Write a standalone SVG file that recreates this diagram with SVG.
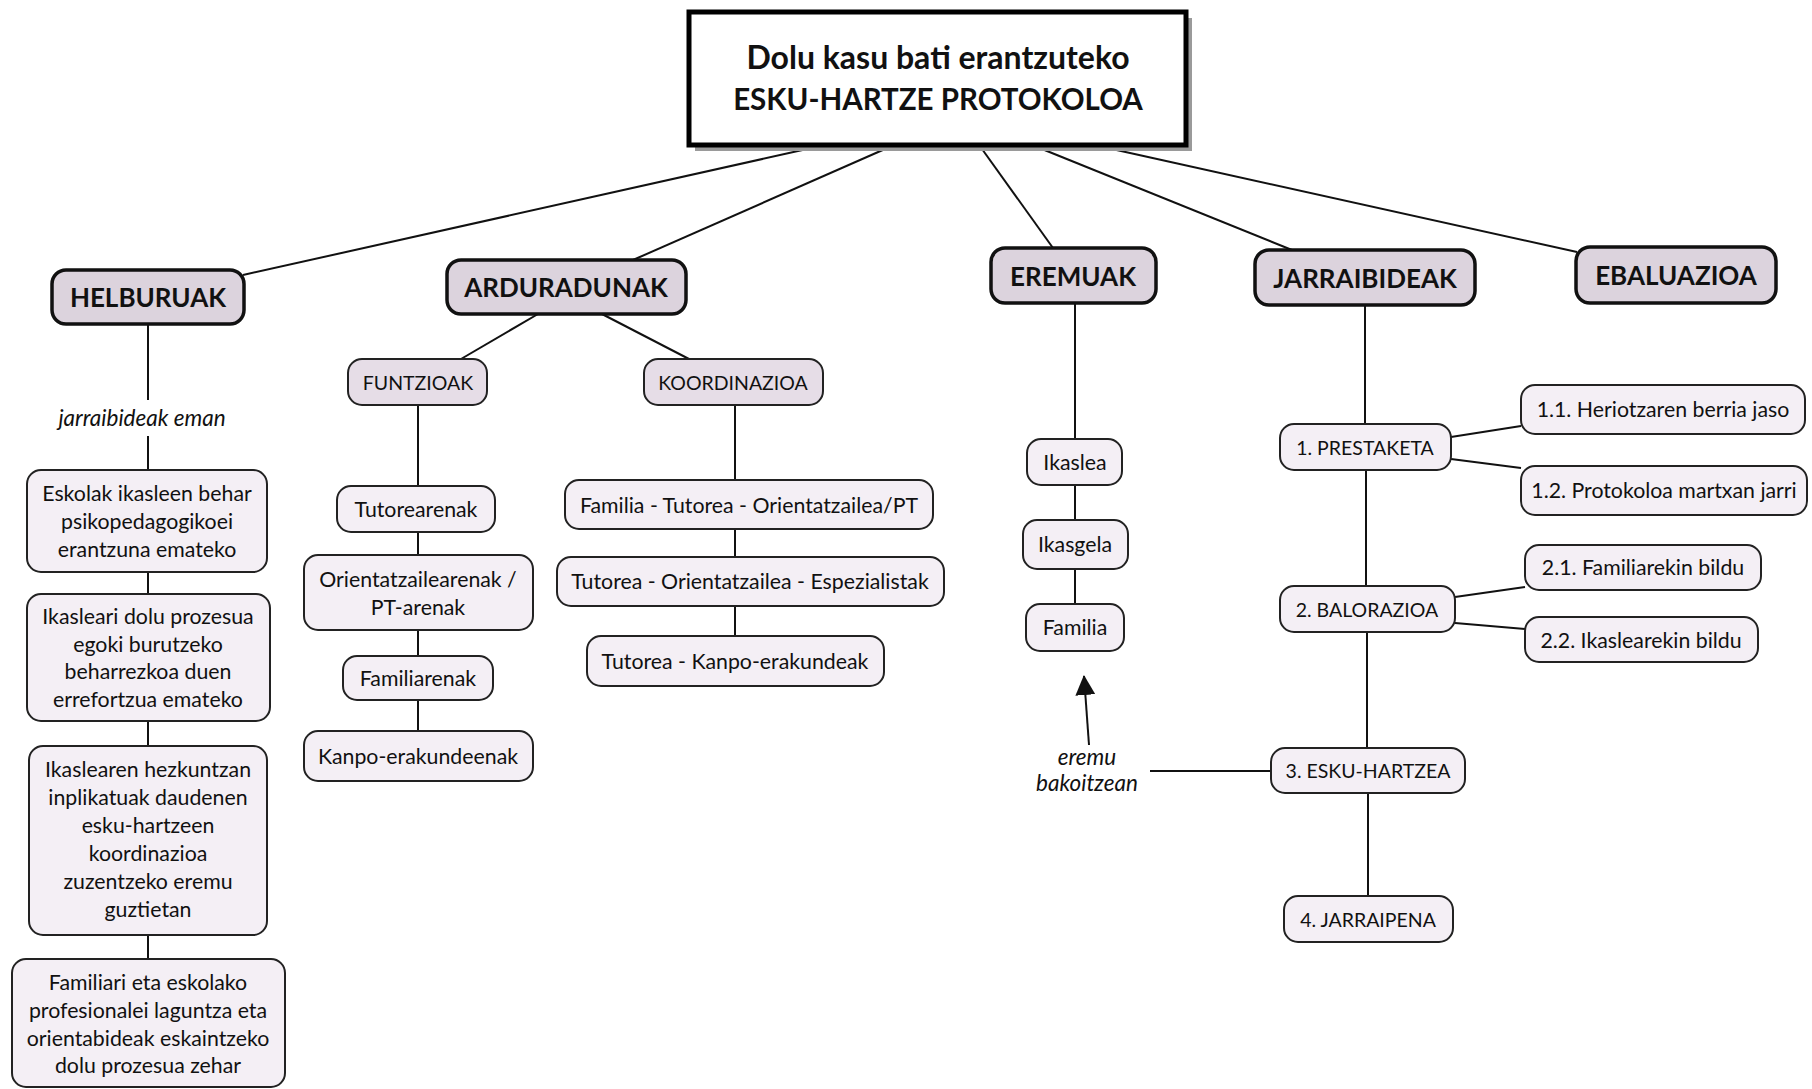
<svg xmlns="http://www.w3.org/2000/svg" width="1812" height="1089" viewBox="0 0 1812 1089">
<style>
text{font-family:Lato,"Open Sans","Liberation Sans",sans-serif;fill:#111;text-anchor:middle;dominant-baseline:central}
.title{font-weight:bold}
.cat rect{fill:#dcd3dd;stroke:#111;stroke-width:3.5}
.cat text{font-size:26px;font-weight:bold}
.sub rect{fill:#e6dde7;stroke:#222;stroke-width:2}
.leaf rect{fill:#f4eff5;stroke:#222;stroke-width:2}
.sub text,.leaf text{font-size:21.3px}
.sub text.uc,.leaf text.uc{font-size:19.5px}
.lbl{font-size:22.5px;font-style:italic}
#connectors line{stroke:#111;stroke-width:2}
</style>
<defs>
<marker id="arr" viewBox="0 0 20 20" refX="19" refY="10" markerWidth="20" markerHeight="20" markerUnits="userSpaceOnUse" orient="auto">
<path d="M0,0 L20,10 L0,20 Z" fill="#111"/>
</marker>
</defs>
<rect width="1812" height="1089" fill="#fff"/>
<g id="connectors">
<line x1="807" y1="149" x2="243" y2="275"/>
<line x1="885" y1="149" x2="633" y2="260"/>
<line x1="982" y1="149" x2="1053" y2="248"/>
<line x1="1042" y1="149" x2="1292" y2="250"/>
<line x1="1112" y1="149" x2="1577" y2="252"/>
<line x1="148" y1="324" x2="148" y2="400"/>
<line x1="148" y1="436" x2="148" y2="470"/>
<line x1="148" y1="572" x2="148" y2="594"/>
<line x1="148" y1="721" x2="148" y2="746"/>
<line x1="148" y1="935" x2="148" y2="959"/>
<line x1="538" y1="314" x2="461" y2="359"/>
<line x1="602" y1="314" x2="689" y2="359"/>
<line x1="418" y1="405" x2="418" y2="486"/>
<line x1="418" y1="532" x2="418" y2="555"/>
<line x1="418" y1="630" x2="418" y2="656"/>
<line x1="418" y1="700" x2="418" y2="731"/>
<line x1="735" y1="405" x2="735" y2="480"/>
<line x1="735" y1="529" x2="735" y2="557"/>
<line x1="735" y1="606" x2="735" y2="636"/>
<line x1="1075" y1="303" x2="1075" y2="439"/>
<line x1="1075" y1="485" x2="1075" y2="520"/>
<line x1="1075" y1="569" x2="1075" y2="604"/>
<line x1="1089" y1="745" x2="1084" y2="676" marker-end="url(#arr)"/>
<line x1="1150" y1="771" x2="1271" y2="771"/>
<line x1="1365" y1="305" x2="1365" y2="424"/>
<line x1="1366" y1="470" x2="1366" y2="586"/>
<line x1="1367" y1="632" x2="1367" y2="748"/>
<line x1="1368" y1="793" x2="1368" y2="896"/>
<line x1="1451" y1="437" x2="1521" y2="426"/>
<line x1="1451" y1="459" x2="1521" y2="468"/>
<line x1="1455" y1="597" x2="1525" y2="587"/>
<line x1="1455" y1="623" x2="1525" y2="629"/>
</g>
<g id="title">
<rect x="695" y="18" width="497" height="133" fill="#9a9a9a"/>
<rect x="689" y="12" width="497" height="133" fill="#fff" stroke="#000" stroke-width="5"/>
<text class="title" x="938" y="56" font-size="32">Dolu kasu bati erantzuteko</text>
<text class="title" x="938" y="98" font-size="29.5">ESKU-HARTZE PROTOKOLOA</text>
</g>
<g id="helburuak" class="cat"><rect x="52" y="270" width="192" height="54" rx="14"/><text x="148" y="297">HELBURUAK</text></g>
<g id="arduradunak" class="cat"><rect x="447" y="260" width="239" height="54" rx="14"/><text x="566" y="287">ARDURADUNAK</text></g>
<g id="eremuak" class="cat"><rect x="991" y="248" width="165" height="55" rx="14"/><text x="1073" y="276">EREMUAK</text></g>
<g id="jarraibideak" class="cat"><rect x="1255" y="250" width="220" height="55" rx="14"/><text x="1365" y="278">JARRAIBIDEAK</text></g>
<g id="ebaluazioa" class="cat"><rect x="1576" y="247" width="200" height="56" rx="14"/><text x="1676" y="275">EBALUAZIOA</text></g>
<text id="lbl-jarraibideak" class="lbl" x="142" y="417">jarraibideak eman</text>
<g id="h1" class="leaf"><rect x="27" y="470" width="240" height="102" rx="14"/><text x="147" y="493">Eskolak ikasleen behar</text><text x="147" y="521">psikopedagogikoei</text><text x="147" y="549">erantzuna emateko</text></g>
<g id="h2" class="leaf"><rect x="27" y="594" width="243" height="127" rx="14"/><text x="148" y="616">Ikasleari dolu prozesua</text><text x="148" y="644">egoki burutzeko</text><text x="148" y="671">beharrezkoa duen</text><text x="148" y="699">errefortzua emateko</text></g>
<g id="h3" class="leaf"><rect x="29" y="746" width="238" height="189" rx="14"/><text x="148" y="769">Ikaslearen hezkuntzan</text><text x="148" y="797">inplikatuak daudenen</text><text x="148" y="825">esku-hartzeen</text><text x="148" y="853">koordinazioa</text><text x="148" y="881">zuzentzeko eremu</text><text x="148" y="909">guztietan</text></g>
<g id="h4" class="leaf"><rect x="12" y="959" width="273" height="128" rx="14"/><text x="148" y="982">Familiari eta eskolako</text><text x="148" y="1010">profesionalei laguntza eta</text><text x="148" y="1038">orientabideak eskaintzeko</text><text x="148" y="1065">dolu prozesua zehar</text></g>
<g id="funtzioak" class="sub"><rect x="348" y="359" width="139" height="46" rx="14"/><text class="uc" x="418" y="382">FUNTZIOAK</text></g>
<g id="koordinazioa" class="sub"><rect x="644" y="359" width="179" height="46" rx="14"/><text class="uc" x="733" y="382">KOORDINAZIOA</text></g>
<g id="tutorearenak" class="leaf"><rect x="337" y="486" width="158" height="46" rx="14"/><text x="416" y="509">Tutorearenak</text></g>
<g id="orientatzailearenak" class="leaf"><rect x="304" y="555" width="229" height="75" rx="14"/><text x="418" y="579">Orientatzailearenak /</text><text x="418" y="607">PT-arenak</text></g>
<g id="familiarenak" class="leaf"><rect x="343" y="656" width="150" height="44" rx="14"/><text x="418" y="678">Familiarenak</text></g>
<g id="kanpo-erakundeenak" class="leaf"><rect x="304" y="731" width="229" height="50" rx="14"/><text x="418" y="756">Kanpo-erakundeenak</text></g>
<g id="k1" class="leaf"><rect x="565" y="480" width="368" height="49" rx="14"/><text x="749" y="505">Familia - Tutorea - Orientatzailea/PT</text></g>
<g id="k2" class="leaf"><rect x="557" y="557" width="387" height="49" rx="14"/><text x="750" y="581">Tutorea - Orientatzailea - Espezialistak</text></g>
<g id="k3" class="leaf"><rect x="587" y="636" width="297" height="50" rx="14"/><text x="735" y="661">Tutorea - Kanpo-erakundeak</text></g>
<g id="ikaslea" class="leaf"><rect x="1027" y="439" width="95" height="46" rx="14"/><text x="1075" y="462">Ikaslea</text></g>
<g id="ikasgela" class="leaf"><rect x="1023" y="520" width="105" height="49" rx="14"/><text x="1075" y="544">Ikasgela</text></g>
<g id="familia" class="leaf"><rect x="1026" y="604" width="98" height="47" rx="14"/><text x="1075" y="627">Familia</text></g>
<text id="lbl-eremu" class="lbl" x="1087" y="756">eremu</text>
<text id="lbl-bakoitzean" class="lbl" x="1087" y="782">bakoitzean</text>
<g id="prestaketa" class="leaf"><rect x="1280" y="424" width="171" height="46" rx="14"/><text class="uc" x="1365" y="447">1. PRESTAKETA</text></g>
<g id="balorazioa" class="leaf"><rect x="1280" y="586" width="175" height="46" rx="14"/><text class="uc" x="1367" y="609">2. BALORAZIOA</text></g>
<g id="esku-hartzea" class="leaf"><rect x="1271" y="748" width="194" height="45" rx="14"/><text class="uc" x="1368" y="770">3. ESKU-HARTZEA</text></g>
<g id="jarraipena" class="leaf"><rect x="1284" y="896" width="169" height="46" rx="14"/><text class="uc" x="1368" y="919">4. JARRAIPENA</text></g>
<g id="p11" class="leaf"><rect x="1521" y="385" width="284" height="49" rx="14"/><text x="1663" y="409">1.1. Heriotzaren berria jaso</text></g>
<g id="p12" class="leaf"><rect x="1521" y="466" width="286" height="49" rx="14"/><text x="1664" y="490">1.2. Protokoloa martxan jarri</text></g>
<g id="b21" class="leaf"><rect x="1525" y="545" width="236" height="45" rx="14"/><text x="1643" y="567">2.1. Familiarekin bildu</text></g>
<g id="b22" class="leaf"><rect x="1525" y="617" width="233" height="45" rx="14"/><text x="1641" y="640">2.2. Ikaslearekin bildu</text></g>
</svg>
